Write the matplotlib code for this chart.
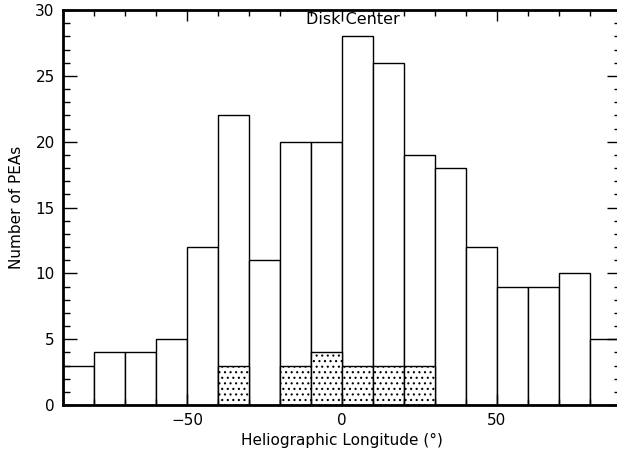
import matplotlib.pyplot as plt
from matplotlib.ticker import MultipleLocator

plt.rcParams['hatch.linewidth'] = 0.8

# histogram of longitudes, 10 degree bins from -90 to 90
bin_left = [-90, -80, -70, -60, -50, -40, -30, -20, -10, 0, 10, 20, 30, 40, 50, 60, 70, 80]
counts = [3, 4, 4, 5, 12, 22, 11, 20, 20, 28, 26, 19, 18, 12, 9, 9, 10, 5]
# dotted subset
sub_left = [-40, -20, -10, 0, 10, 20]
sub_counts = [3, 3, 4, 3, 3, 3]

fig = plt.figure(figsize=(6.17, 4.58), dpi=100)
ax = fig.add_axes([63/617, 1 - 405/458, 558/617, 395/458])

ax.bar(bin_left, counts, width=10, align='edge', facecolor='white',
       edgecolor='black', linewidth=1.0)
ax.bar(sub_left, sub_counts, width=10, align='edge', facecolor='white',
       edgecolor='black', linewidth=1.0, hatch='...')

ax.set_xlim(-90, 90)
ax.set_ylim(0, 30)

ax.xaxis.set_major_locator(MultipleLocator(50))
ax.xaxis.set_minor_locator(MultipleLocator(10))
ax.yaxis.set_major_locator(MultipleLocator(5))
ax.yaxis.set_minor_locator(MultipleLocator(1))
ax.tick_params(which='both', direction='in', top=True, right=True,
               labelsize=11, width=1.0)
ax.tick_params(axis='x', which='major', length=8, pad=6)
ax.tick_params(axis='x', which='minor', length=4)
ax.tick_params(axis='y', which='major', length=10, pad=6)
ax.tick_params(axis='y', which='minor', length=5)
for s in ax.spines.values():
    s.set_linewidth(2)

ax.set_xlabel('Heliographic Longitude (°)', fontsize=11, labelpad=3)
ax.set_ylabel('Number of PEAs', fontsize=11, labelpad=8)
ax.text(3.5, 29.25, 'Disk Center', ha='center', va='center', fontsize=11.5)

fig.savefig('out.png', dpi=100)
